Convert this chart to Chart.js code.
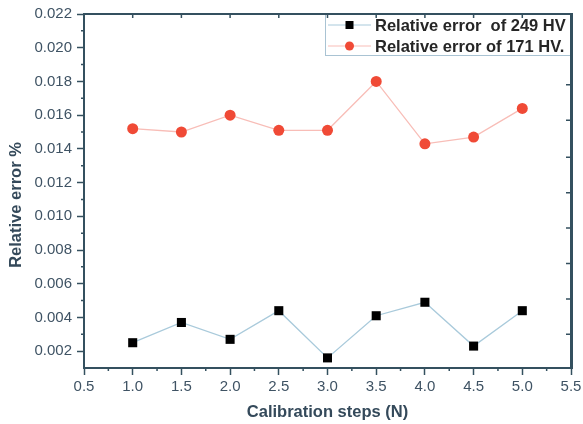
<!DOCTYPE html>
<html>
<head>
<meta charset="utf-8">
<script src="https://cdn.jsdelivr.net/npm/chart.js@4"></script>
<style>
  html, body { margin: 0; padding: 0; background: #fff; overflow: hidden; }
  canvas { display: block; }
</style>
</head>
<body>
<canvas id="myChart" width="583" height="424"></canvas>
<script>
// calibration steps (N)
const steps = [1.0, 1.5, 2.0, 2.5, 3.0, 3.5, 4.0, 4.5, 5.0];
const err249 = [0.0025, 0.0037, 0.0027, 0.0044, 0.0016, 0.0041, 0.0049, 0.0023, 0.0044];
const err171 = [0.0152, 0.0150, 0.0160, 0.0151, 0.0151, 0.0180, 0.0143, 0.0147, 0.0164];
const xTicks = [0.5, 1.0, 1.5, 2.0, 2.5, 3.0, 3.5, 4.0, 4.5, 5.0, 5.5];
const yTicks = [0.002, 0.004, 0.006, 0.008, 0.010, 0.012, 0.014, 0.016, 0.018, 0.020, 0.022];
const rightTicks = [0.0030, 0.0051, 0.0072, 0.0093, 0.0114, 0.0135, 0.0157, 0.0178];
const seriesNames = ['Relative error  of 249 HV', 'Relative error of 171 HV.'];
const xTitle = 'Calibration steps (N)';
const yTitle = 'Relative error %';

const axisColor = '#34505f';
const labelColor = '#3f5364';
const fontFam = '"Liberation Sans", Arial, sans-serif';

// frame, extra ticks, axis titles, legend box
const framePlugin = {
  id: 'frame',
  afterDraw(chart) {
    const c = chart.ctx;
    const xs = chart.scales.x, ys = chart.scales.y;
    const L = xs.getPixelForValue(0.5), R = xs.getPixelForValue(5.5);
    const T = ys.getPixelForValue(0.022), B = ys.getPixelForValue(0.001);
    c.save();

    // legend box first, frame on top of it
    const lx = 325, ly = T, lw = R - lx, lh = 42;
    c.fillStyle = '#fff';
    c.fillRect(lx, ly, lw, lh);
    c.strokeStyle = '#a9c3d3';
    c.lineWidth = 1;
    c.strokeRect(lx + 0.5, ly + 0.5, lw - 1, lh - 1);

    // top and right frame
    c.fillStyle = axisColor;
    c.fillRect(L - 1, T - 1, R - L + 3, 2);
    c.fillRect(R - 1, T - 1, 3, B - T + 2);

    c.strokeStyle = axisColor;
    c.lineWidth = 1.5;
    c.beginPath();
    for (let v = 0.75; v < 5.5; v += 0.5) {
      const px = xs.getPixelForValue(v);
      c.moveTo(px, B); c.lineTo(px, B + 3);
    }
    xTicks.forEach(v => {
      const px = xs.getPixelForValue(v);
      c.moveTo(px, T); c.lineTo(px, T + 4);
    });
    for (let v = 0.003; v < 0.0225; v += 0.002) {
      const py = ys.getPixelForValue(v);
      c.moveTo(L, py); c.lineTo(L - 3, py);
    }
    rightTicks.forEach(v => {
      const py = ys.getPixelForValue(v);
      c.moveTo(R, py); c.lineTo(R - 5, py);
    });
    c.stroke();

    // axis titles
    c.fillStyle = '#34495a';
    c.font = 'bold 16.5px ' + fontFam;
    c.textAlign = 'center';
    c.textBaseline = 'middle';
    c.fillText(xTitle, (L + R) / 2, 412);
    c.save();
    c.translate(16, 205);
    c.rotate(-Math.PI / 2);
    c.fillText(yTitle, 0, 0);
    c.restore();

    // legend entries
    c.textAlign = 'left';
    chart.data.datasets.forEach((ds, i) => {
      const y = ly + 11 + i * 21;
      c.strokeStyle = ds.borderColor;
      c.lineWidth = 1;
      c.beginPath(); c.moveTo(lx + 3, y); c.lineTo(lx + 46, y); c.stroke();
      c.fillStyle = ds.pointBackgroundColor;
      if (ds.pointStyle === 'rect') {
        c.fillRect(lx + 20.5, y - 4, 8, 8);
      } else {
        c.beginPath(); c.arc(lx + 24.5, y, 4.5, 0, Math.PI * 2); c.fill();
      }
      c.fillStyle = '#262626';
      c.fillText(ds.label, lx + 50, y + 1);
    });
    c.restore();
  }
};

const ctx = document.getElementById('myChart').getContext('2d');

const myChart = new Chart(ctx, {
  type: 'line',
  data: {
    datasets: [{
      label: seriesNames[0],
      data: steps.map((s, i) => ({ x: s, y: err249[i] })),
      borderColor: '#a9cadb',
      borderWidth: 1.3,
      pointStyle: 'rect',
      pointRadius: 6.4,
      pointBackgroundColor: '#000',
      pointBorderColor: '#000',
      pointBorderWidth: 0,
      tension: 0
    }, {
      label: seriesNames[1],
      data: steps.map((s, i) => ({ x: s, y: err171[i] })),
      borderColor: '#f8bdb7',
      borderWidth: 1.3,
      pointStyle: 'circle',
      pointRadius: 5.5,
      pointBackgroundColor: '#f04a36',
      pointBorderColor: '#f04a36',
      pointBorderWidth: 0,
      tension: 0
    }]
  },
  options: {
    responsive: false,
    animation: false,
    layout: { padding: { top: 14, right: 12, left: 0, bottom: 0 } },
    scales: {
      x: {
        type: 'linear',
        min: 0.5,
        max: 5.5,
        afterBuildTicks: s => { s.ticks = xTicks.map(v => ({ value: v })); },
        afterFit: s => { s.height = 56; s.paddingLeft = 0; s.paddingRight = 0; },
        grid: { drawOnChartArea: false, color: axisColor, tickLength: 7, tickWidth: 1.5 },
        border: { color: axisColor, width: 2 },
        ticks: {
          color: labelColor,
          font: { family: fontFam, size: 15 },
          padding: 3,
          maxRotation: 0,
          callback: v => v.toFixed(1)
        }
      },
      y: {
        min: 0.001,
        max: 0.022,
        afterBuildTicks: s => { s.ticks = yTicks.map(v => ({ value: v })); },
        afterFit: s => { s.width = 84; s.paddingTop = 0; s.paddingBottom = 0; },
        grid: { drawOnChartArea: false, color: axisColor, tickLength: 7, tickWidth: 1.5 },
        border: { color: axisColor, width: 2 },
        ticks: {
          color: labelColor,
          font: { family: fontFam, size: 15 },
          padding: 5,
          callback: v => v.toFixed(3)
        }
      }
    },
    plugins: {
      legend: { display: false },
      tooltip: { enabled: false }
    }
  },
  plugins: [framePlugin]
});
</script>
</body>
</html>
